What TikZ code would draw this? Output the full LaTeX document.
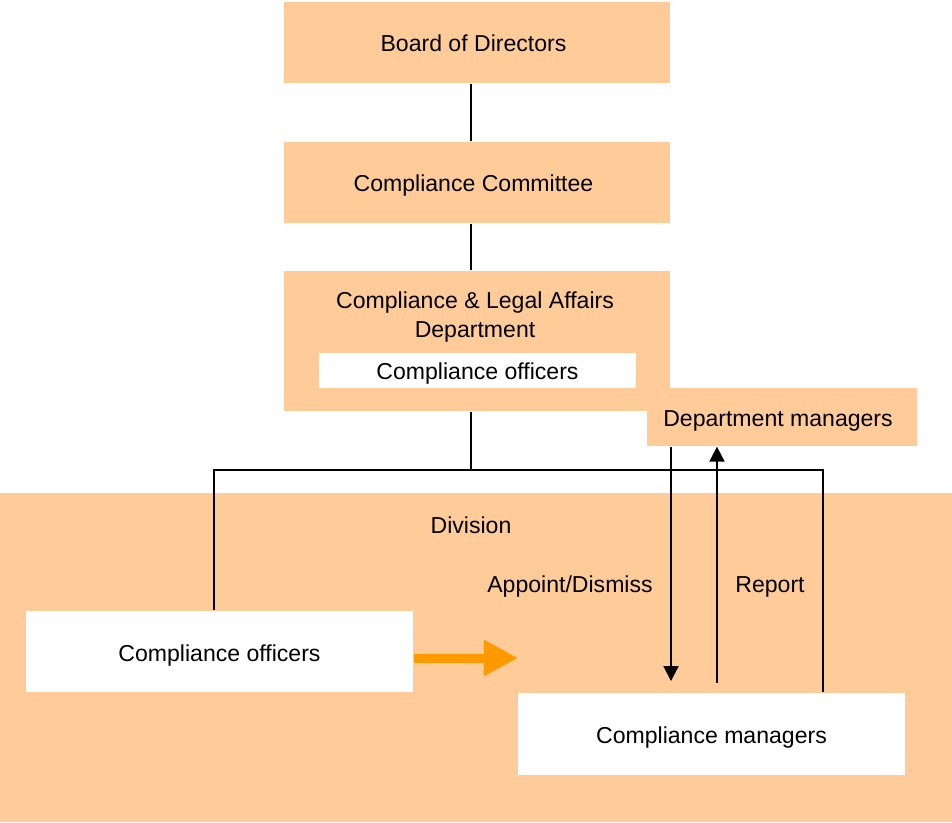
\documentclass[tikz,border=0pt]{standalone}
\usepackage{fontspec}
\setmainfont{Liberation Sans}
\usetikzlibrary{arrows.meta}
\definecolor{peach}{HTML}{FFCC99}
\definecolor{amber}{HTML}{FF9900}

\begin{document}
\begin{tikzpicture}[x=0.025cm,y=-0.025cm,>={Triangle[width=0.375cm,length=0.37cm]},
      line width=0.035cm,
      font=\fontsize{16.4}{20.1}\selectfont]
    \tikzstyle{txt}=[text height=13.5pt,text depth=0pt]
    \tikzstyle{box}=[txt,fill=peach,draw=none,inner sep=0pt,minimum width=9.65cm,minimum height=2.025cm]
    \tikzstyle{plain box}=[txt,fill=white,draw=none,inner sep=0pt,minimum width=9.675cm,minimum height=2.025cm]
    \useasboundingbox (0,0) rectangle (952,822);

    \node[box,minimum width=23.8cm,minimum height=8.225cm] (div) at (476,657.5) {};
    \node[txt] (divtext) at (471,524) {Division};

    \node[box]           (board) at (477,42.5)  {Board of Directors\kern0.175cm};
    \node[box]           (com)   at (477,182.5) {Compliance Committee\kern0.175cm};
    \node[box,minimum height=3.5cm] (cla) at (477,341) {};
    \node[align=center]  (clatext) at (475,317) {Compliance \& Legal Affairs\\Department};
    \node[plain box,minimum width=7.925cm,minimum height=0.875cm] (claoff) at (477.5,370.5) {Compliance officers};
    \node[box,minimum width=6.75cm,minimum height=1.45cm] (dm) at (782,417) {Department managers\kern0.2cm};

    \node[plain box]     (off) at (219.5,651.5) {Compliance officers};
    \node[plain box,minimum height=2.05cm] (mgr) at (711.5,734) {Compliance managers};

    \node[txt] (apptext) at (570,583) {Appoint/Dismiss};
    \node[txt] (reptext) at (770,583) {Report};

    \coordinate (trunk) at (471,470);
    \coordinate (lft)   at (214,470);
    \coordinate (rgt)   at (823,470);
    \coordinate (appdn) at (671,681);
    \coordinate (repup) at (717,683);
    \coordinate (flow)  at (518,658);

    \draw (board.south -| trunk) -- (com.north -| trunk)
          (com.south -| trunk) -- (cla.north -| trunk)
          (cla.south -| trunk) -- (trunk);
    \draw (off.north -| lft) -- (lft) -- (rgt) -- (rgt |- mgr.north);
    \draw[->] (dm.south -| appdn) -- (appdn);
    \draw[->] (repup) -- (dm.south -| repup);
    \draw[amber,line width=0.225cm,-{Triangle[width=0.85cm,length=0.85cm]}]
          (off.east |- flow) -- (flow);
\end{tikzpicture}
\end{document}
